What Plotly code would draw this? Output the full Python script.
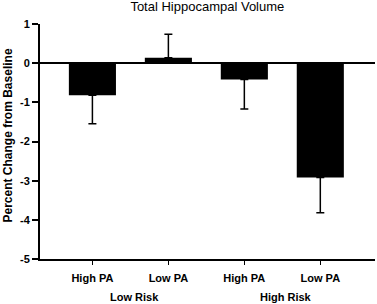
import plotly.graph_objects as go

categories = ["High PA", "Low PA", "High PA", "Low PA"]
groups = ["Low Risk", "High Risk"]
values = [-0.82, 0.14, -0.42, -2.92]
err_plus = [0, 0.60, 0, 0]
err_minus = [0.73, 0, 0.75, 0.90]
positions = [0, 1, 2, 3]
group_centers = [0.55, 2.55]

fig = go.Figure()
fig.add_trace(go.Bar(
    x=positions, y=values, width=0.62,
    marker=dict(color="black", line=dict(width=0)),
    error_y=dict(type="data", symmetric=False, array=err_plus, arrayminus=err_minus,
                 color="black", thickness=1.5, width=4),
))

for g, c in zip(groups, group_centers):
    fig.add_annotation(x=c, y=0, xref="x", yref="paper", yshift=-38, yanchor="middle",
                       text="<b>%s</b>" % g, showarrow=False, font=dict(size=11, color="black"))

fig.add_annotation(x=0, y=0.5, xref="paper", yref="paper", xshift=-33, yshift=6, textangle=-90,
                   xanchor="center", yanchor="middle",
                   text="<b>Percent Change from Baseline</b>", showarrow=False,
                   font=dict(size=12, color="black"))

fig.update_layout(
    width=377, height=304,
    margin=dict(l=40, r=2, t=24, b=45, autoexpand=False),
    paper_bgcolor="white", plot_bgcolor="white",
    font=dict(family="Liberation Sans, Arial, sans-serif", color="black"),
    title=dict(text="Total Hippocampal Volume", x=0.55, xanchor="center", y=0.995, yanchor="top",
               font=dict(size=13, color="black")),
    showlegend=False,
    xaxis=dict(range=[-0.69, 3.72], tickvals=positions,
               ticktext=["<b>%s</b>" % c for c in categories],
               showline=True, linecolor="black", linewidth=1.5,
               ticks="outside", ticklen=4, tickcolor="black", tickwidth=1,
               showgrid=False, zeroline=False, tickfont=dict(size=11), automargin=False,
               ticklabelstandoff=4),
    yaxis=dict(range=[-5, 1], tickvals=[1, 0, -1, -2, -3, -4, -5],
               ticktext=["<b>%d</b>" % v for v in [1, 0, -1, -2, -3, -4, -5]],
               showline=True, linecolor="black", linewidth=2,
               ticks="outside", ticklen=6, tickcolor="black", tickwidth=1.5,
               showgrid=False, zeroline=True, zerolinecolor="black", zerolinewidth=1.5,
               tickfont=dict(size=11), automargin=False),
)

fig.write_html("out.html", config={"displayModeBar": False},
               post_script="document.body.style.margin='0';")
